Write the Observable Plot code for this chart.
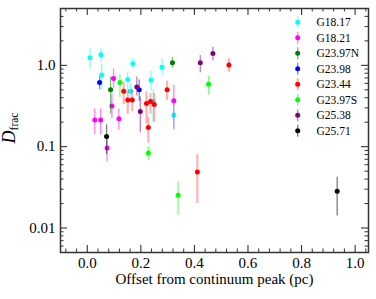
<!DOCTYPE html>
<html><head><meta charset="utf-8">
<script src="https://cdn.jsdelivr.net/npm/d3@7"></script>
<script src="https://cdn.jsdelivr.net/npm/@observablehq/plot@0.6"></script>
<style>body{margin:0;background:#fff}svg{display:block}</style>
</head><body><div id="chart"></div>
<script>
const sources = ["G18.17","G18.21","G23.97N","G23.98","G23.44","G23.97S","G25.38","G25.71"];
const sourceColors = ["#00ffff","#ff00ff","#008000","#0000ff","#ff0000","#00ff00","#800080","#000000"];

const pointSource = [
  "G18.17","G18.17","G18.17","G18.17","G18.17","G18.17","G18.17","G18.17","G18.17","G18.17",
  "G18.21","G18.21","G18.21","G18.21","G18.21","G18.21","G18.21",
  "G23.97N","G23.97N",
  "G23.98","G23.98",
  "G23.44","G23.44","G23.44","G23.44","G23.44","G23.44","G23.44","G23.44","G23.44","G23.44",
  "G23.97S","G23.97S","G23.97S","G23.97S",
  "G25.38","G25.38","G25.38","G25.38",
  "G25.71","G25.71"
];
const offset = [
  0.010,0.051,0.054,0.170,0.151,0.161,0.238,0.246,0.279,0.323,
  0.028,0.050,0.098,0.092,0.118,0.074,0.323,
  0.087,0.318,
  0.046,0.194,
  0.136,0.151,0.168,0.221,0.236,0.250,0.228,0.298,0.529,0.411,
  0.122,0.453,0.228,0.339,
  0.185,0.198,0.422,0.469,
  0.072,0.933
];
const dfrac = [
  1.24,1.35,0.76,1.05,0.67,0.48,0.66,0.36,0.95,0.245,
  0.213,0.213,0.69,0.316,0.22,0.096,0.367,
  0.50,1.08,
  0.615,0.50,
  0.48,0.374,0.374,0.34,0.36,0.33,0.172,0.50,1.01,0.049,
  0.615,0.586,0.0835,0.0252,
  0.54,0.27,1.08,1.40,
  0.133,0.0283
];
const dfracLow = [
  0.90,1.10,0.50,0.90,0.50,0.36,0.48,0.20,0.75,0.17,
  0.14,0.14,0.52,0.22,0.16,0.065,0.16,
  0.25,0.92,
  0.50,0.36,
  0.33,0.25,0.27,0.19,0.25,0.20,0.11,0.37,0.82,0.020,
  0.40,0.43,0.068,0.0144,
  0.42,0.148,0.81,1.13,
  0.080,0.0141
];
const dfracHigh = [
  1.60,1.62,1.05,1.22,0.83,0.60,0.85,0.50,1.20,0.33,
  0.29,0.29,0.90,0.44,0.29,0.13,0.57,
  0.72,1.25,
  0.72,0.66,
  0.62,0.50,0.50,0.47,0.45,0.45,0.23,0.64,1.22,0.080,
  0.78,0.74,0.10,0.037,
  0.72,0.41,1.32,1.67,
  0.186,0.042
];
const xTicks = [0, 0.2, 0.4, 0.6, 0.8, 1.0];
const yTicks = [0.01, 0.1, 1];

const W = 376, H = 299, mL = 60, mR = 8, mT = 8, mB = 47;
const iw = W - mL - mR, ih = H - mT - mB;

const data = offset.map((x, i) => ({x, y: dfrac[i], lo: dfracLow[i], hi: dfracHigh[i], s: pointSource[i]}));

const xMinor = d3.range(-0.08, 1.05, 0.04).map(v => +v.toFixed(2)).filter(v => !xTicks.some(t => Math.abs(t - v) < 1e-6));
const yMinor = [];
for (const e of [-3, -2, -1, 0]) for (let k = 2; k <= 9; k++) { const v = k * Math.pow(10, e); if (v >= 0.005 && v <= 5) yMinor.push(+v.toPrecision(2)); }

const axisCol = "#333";
const majorLen = 7, minorLen = 3.5;

const seriesMarks = sources.flatMap((s) => {
  const isRed = s === "G23.44";
  return [
    Plot.ruleX(data, {filter: d => d.s === s, x: "x", y1: "lo", y2: "hi", stroke: "s",
      strokeOpacity: isRed ? 0.3 : 0.5, strokeWidth: isRed ? 2.2 : 1.3}),
    Plot.dot(data, {filter: d => d.s === s, x: "x", y: "y", fill: "s", r: 2.5})
  ];
});

const chart = Plot.plot({
  width: W, height: H, marginLeft: mL, marginRight: mR, marginTop: mT, marginBottom: mB,
  style: {fontFamily: "'Liberation Serif', 'Times New Roman', serif", fontSize: "15px", color: "#000", background: "#fff"},
  x: {domain: [-0.1, 1.05]},
  y: {type: "log", domain: [0.005, 5]},
  color: {domain: sources, range: sourceColors},
  marks: [
    Plot.ruleX(xTicks, {insetTop: ih - majorLen, stroke: axisCol, strokeWidth: 1.1}),
    Plot.ruleX(xTicks, {insetBottom: ih - majorLen, stroke: axisCol, strokeWidth: 1.1}),
    Plot.ruleX(xMinor, {insetTop: ih - minorLen, stroke: axisCol, strokeWidth: 1}),
    Plot.ruleX(xMinor, {insetBottom: ih - minorLen, stroke: axisCol, strokeWidth: 1}),
    Plot.ruleY(yTicks, {insetRight: iw - majorLen, stroke: axisCol, strokeWidth: 1.1}),
    Plot.ruleY(yTicks, {insetLeft: iw - majorLen, stroke: axisCol, strokeWidth: 1.1}),
    Plot.ruleY(yMinor, {insetRight: iw - minorLen, stroke: axisCol, strokeWidth: 1}),
    Plot.ruleY(yMinor, {insetLeft: iw - minorLen, stroke: axisCol, strokeWidth: 1}),
    Plot.axisX(xTicks, {tickSize: 0, tickPadding: 5, tickFormat: d3.format(".1f"), label: null, fontSize: 15}),
    Plot.axisY(yTicks, {tickSize: 0, tickPadding: 5, tickFormat: d => d === 1 ? "1.0" : String(d), label: null, fontSize: 15}),
    Plot.text(["Offset from continuum peak (pc)"], {frameAnchor: "bottom", dy: 31, fontSize: 15}),
    ...seriesMarks,
    Plot.frame({stroke: axisCol, strokeWidth: 1.5})
  ]
});

document.getElementById("chart").appendChild(chart);

const svg = d3.select(chart);
const yl = svg.append("text")
  .attr("transform", "translate(15,128) rotate(-90)")
  .attr("text-anchor", "middle")
  .attr("font-family", "'Liberation Serif', 'Times New Roman', serif")
  .attr("fill", "#000");
yl.append("tspan").attr("font-style", "italic").attr("font-size", 18).text("D");
yl.append("tspan").attr("font-size", 11.5).attr("dy", 3).text("frac");

const lg = svg.append("g").attr("font-family", "'Liberation Serif', 'Times New Roman', serif").attr("font-size", 11.5).attr("text-anchor", "start");
sources.forEach((s, i) => {
  const cy = 22.3 + i * 15.5, cx = 297.7;
  lg.append("line").attr("x1", cx).attr("x2", cx).attr("y1", cy - 6).attr("y2", cy + 6)
    .attr("stroke", sourceColors[i]).attr("stroke-opacity", s === "G23.44" ? 0.3 : 0.5).attr("stroke-width", s === "G23.44" ? 2.2 : 1.3);
  lg.append("circle").attr("cx", cx).attr("cy", cy).attr("r", 2.5).attr("fill", sourceColors[i]);
  lg.append("text").attr("x", 316.5).attr("y", cy).attr("dy", "0.35em").attr("text-anchor", "start").attr("fill", "#000").text(s);
});
</script>
</body></html>
